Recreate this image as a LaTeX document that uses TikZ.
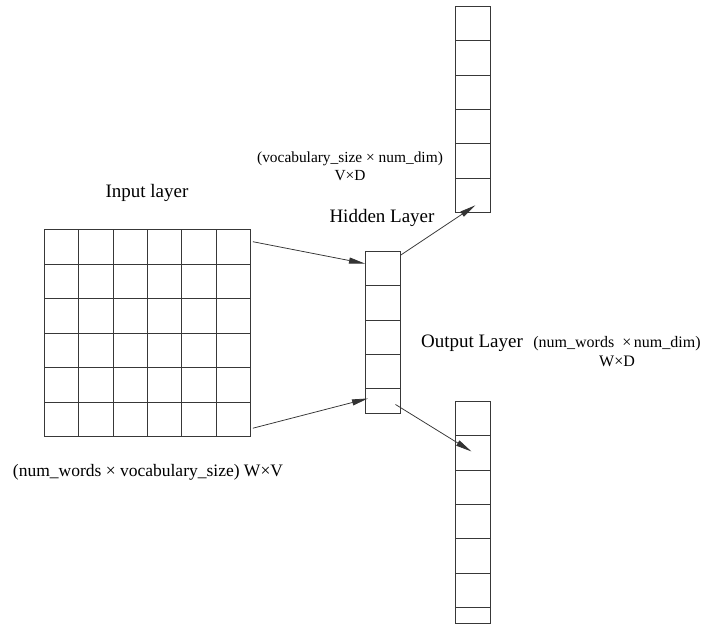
\documentclass[tikz,border=0pt]{standalone}
\usepackage{fontspec}
\setmainfont{Liberation Serif}
\usetikzlibrary{arrows.meta,calc}
\begin{document}
\begin{tikzpicture}[x=1pt,y=-1pt]
\tikzset{
  cellbox/.style={draw=black!78, line width=0.9pt, inner sep=0pt, anchor=north west,
                  minimum width=35pt, minimum height=#1},
  cellbox/.default=34.4pt,
  link/.style={draw=black!80, line width=0.75pt, -{Triangle[length=16pt,width=6pt]}},
  heading/.style={font=\fontsize{19}{22}\selectfont, inner sep=0pt},
  dimtext/.style={font=\fontsize{16}{19}\selectfont, inner sep=0pt, align=center},
}
% canvas
\fill[white] (0,0) rectangle (702,625);
\useasboundingbox (0,0) rectangle (702,625);

% input layer: 6x6 grid
\foreach \r in {1,...,6}
  \foreach \c in {1,...,6}
    \node[cellbox=34.5pt, minimum width=34.33pt] (in-\r-\c)
      at ({44+(\c-1)*34.33},{229+(\r-1)*34.5}) {};

% hidden layer column
\foreach \i in {1,...,4}
  \node[cellbox=34.25pt] (h\i) at (365,{251+(\i-1)*34.25}) {};
\node[cellbox=25pt] (h5) at (365,388) {};

% upper output column (V x D)
\foreach \i in {1,...,6}
  \node[cellbox=34.33pt] (t\i) at (455,{6+(\i-1)*34.33}) {};

% lower output column (W x D)
\foreach \i in {1,...,6}
  \node[cellbox=34.33pt] (b\i) at (455,{401+(\i-1)*34.33}) {};
\node[cellbox=16pt] (b7) at (455,607) {};

% connectors
\draw[link] ($(in-1-6.east)+(2,-5)$) -- ($(h1.west)+(0,-5)$);
\draw[link] ($(in-6-6.east)+(2,9)$) -- ($(h5.west)+(3,-2.5)$);
\draw[link] ($(h1.north east)+(0,4)$) -- ($(t6.center)+(2.5,10)$);
\draw[link] ($(h5.center)+(12.5,3.5)$) -- ($(b2.center)+(-1.5,-1.5)$);

% labels
\node[heading] (lin) at (147,193) {Input layer};
\node[heading] (lhid) at (382,218) {Hidden Layer};
\node[heading] (lout) at (472,343) {Output Layer};
\node[dimtext, font=\fontsize{15.4}{18}\selectfont] (dvd) at (350,166) {(vocabulary\_size × num\_dim)\\V×D};
\node[dimtext] (dwd) at (617,352) {(num\_words \ ×\,num\_dim)\\W×D};
\node[dimtext, font=\fontsize{17.5}{20}\selectfont] (dwv) at (148,472) {(num\_words × vocabulary\_size) W×V};
\end{tikzpicture}
\end{document}
